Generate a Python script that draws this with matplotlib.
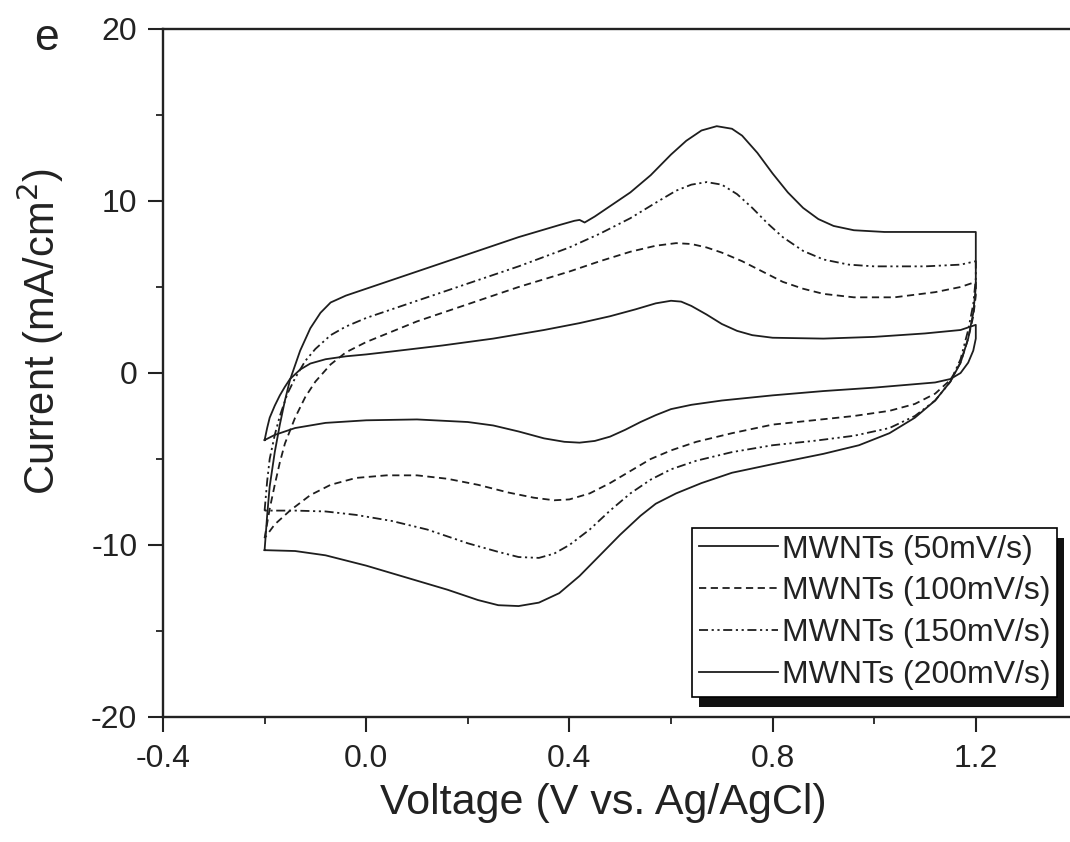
import matplotlib
matplotlib.use("Agg")
import matplotlib.pyplot as plt
from matplotlib.patches import Rectangle

plt.rcParams['font.family'] = ['Liberation Sans', 'DejaVu Sans']

# ---- data ----
labels = ["MWNTs (50mV/s)", "MWNTs (100mV/s)", "MWNTs (150mV/s)", "MWNTs (200mV/s)"]

v50 = [-0.20, -0.195, -0.19, -0.18, -0.17, -0.16, -0.15, -0.13, -0.11, -0.08, -0.04, 0.00, 0.05, 0.15, 0.25, 0.35, 0.42, 0.48, 0.53, 0.57, 0.60, 0.62, 0.64, 0.67, 0.70, 0.73, 0.76, 0.80, 0.90, 1.00, 1.10, 1.17, 1.20,
       1.20, 1.195, 1.185, 1.17, 1.15, 1.12, 1.08, 1.00, 0.90, 0.80, 0.70, 0.64, 0.60, 0.57, 0.54, 0.51, 0.48, 0.45, 0.42, 0.39, 0.35, 0.30, 0.25, 0.20, 0.10, 0.00, -0.08, -0.14, -0.18, -0.20]
i50 = [-3.9, -3.2, -2.6, -1.9, -1.3, -0.8, -0.35, 0.2, 0.55, 0.8, 0.97, 1.08, 1.25, 1.6, 2.0, 2.5, 2.9, 3.3, 3.7, 4.05, 4.2, 4.15, 3.9, 3.4, 2.85, 2.45, 2.2, 2.05, 2.0, 2.1, 2.3, 2.5, 2.8,
       2.0, 1.3, 0.6, 0.0, -0.35, -0.55, -0.65, -0.85, -1.05, -1.3, -1.6, -1.85, -2.1, -2.45, -2.85, -3.3, -3.7, -3.95, -4.05, -4.0, -3.8, -3.4, -3.05, -2.85, -2.7, -2.75, -2.9, -3.2, -3.6, -3.9]

v100 = [-0.20, -0.19, -0.18, -0.17, -0.16, -0.14, -0.12, -0.10, -0.07, -0.04, 0.00, 0.10, 0.20, 0.30, 0.40, 0.46, 0.52, 0.57, 0.61, 0.64, 0.67, 0.70, 0.74, 0.78, 0.82, 0.86, 0.90, 0.96, 1.04, 1.12, 1.17, 1.20,
        1.20, 1.195, 1.185, 1.17, 1.15, 1.12, 1.08, 1.03, 0.96, 0.88, 0.80, 0.72, 0.65, 0.60, 0.56, 0.52, 0.48, 0.44, 0.40, 0.37, 0.33, 0.28, 0.22, 0.16, 0.10, 0.04, -0.02, -0.07, -0.11, -0.15, -0.18, -0.20]
i100 = [-9.6, -7.9, -6.5, -5.2, -4.1, -2.6, -1.4, -0.5, 0.5, 1.2, 1.8, 3.0, 4.0, 5.0, 5.9, 6.5, 7.05, 7.4, 7.55, 7.5, 7.3, 7.0, 6.5, 5.9, 5.3, 4.9, 4.6, 4.4, 4.4, 4.7, 5.0, 5.3,
        4.5, 3.3, 2.0, 0.6, -0.4, -1.2, -1.8, -2.2, -2.5, -2.75, -3.0, -3.5, -4.0, -4.5, -5.0, -5.7, -6.4, -7.0, -7.35, -7.4, -7.25, -6.95, -6.5, -6.15, -5.95, -5.95, -6.1, -6.5, -7.1, -8.0, -8.8, -9.6]

v150 = [-0.20, -0.195, -0.19, -0.18, -0.17, -0.155, -0.14, -0.12, -0.10, -0.07, -0.04, 0.00, 0.10, 0.20, 0.30, 0.40, 0.46, 0.52, 0.57, 0.61, 0.64, 0.67, 0.70, 0.73, 0.76, 0.79, 0.82, 0.86, 0.90, 0.95, 1.00, 1.10, 1.17, 1.20,
        1.20, 1.195, 1.185, 1.17, 1.15, 1.12, 1.08, 1.03, 0.96, 0.88, 0.80, 0.72, 0.65, 0.60, 0.56, 0.52, 0.48, 0.44, 0.40, 0.37, 0.34, 0.30, 0.26, 0.20, 0.12, 0.05, -0.02, -0.08, -0.14, -0.20]
i150 = [-8.0, -6.3, -5.0, -3.6, -2.5, -1.2, -0.3, 0.7, 1.4, 2.2, 2.7, 3.2, 4.2, 5.2, 6.2, 7.3, 8.1, 9.0, 9.9, 10.6, 10.95, 11.1, 10.95, 10.4, 9.6, 8.7, 7.9, 7.1, 6.6, 6.3, 6.2, 6.2, 6.3, 6.5,
        5.5, 4.0, 2.5, 0.8, -0.5, -1.6, -2.5, -3.2, -3.65, -3.95, -4.2, -4.6, -5.1, -5.6, -6.2, -7.0, -8.0, -9.1, -10.0, -10.5, -10.75, -10.7, -10.4, -9.9, -9.1, -8.6, -8.25, -8.05, -8.0, -8.0]

v200 = [-0.20, -0.195, -0.19, -0.18, -0.17, -0.16, -0.15, -0.13, -0.11, -0.09, -0.07, -0.04, 0.00, 0.10, 0.20, 0.30, 0.38, 0.41, 0.42, 0.43, 0.45, 0.48, 0.52, 0.56, 0.60, 0.63, 0.66, 0.69, 0.72, 0.74, 0.77, 0.80, 0.83, 0.86, 0.89, 0.92, 0.96, 1.02, 1.10, 1.20,
        1.20, 1.195, 1.185, 1.17, 1.15, 1.12, 1.08, 1.03, 0.97, 0.90, 0.80, 0.72, 0.66, 0.61, 0.57, 0.54, 0.50, 0.46, 0.42, 0.38, 0.34, 0.30, 0.26, 0.22, 0.16, 0.08, 0.00, -0.08, -0.14, -0.20]
i200 = [-10.3, -8.3, -6.6, -4.6, -3.0, -1.6, -0.4, 1.3, 2.6, 3.5, 4.1, 4.5, 4.9, 5.9, 6.9, 7.9, 8.6, 8.85, 8.9, 8.75, 9.1, 9.7, 10.5, 11.5, 12.7, 13.5, 14.1, 14.35, 14.2, 13.8, 12.8, 11.6, 10.5, 9.6, 8.95, 8.55, 8.3, 8.2, 8.2, 8.2,
        5.0, 3.5, 2.0, 0.6, -0.5, -1.6, -2.6, -3.5, -4.2, -4.7, -5.3, -5.8, -6.4, -7.0, -7.6, -8.3, -9.4, -10.6, -11.8, -12.8, -13.35, -13.55, -13.5, -13.2, -12.6, -11.9, -11.2, -10.6, -10.35, -10.3]

xticks = [-0.4, 0.0, 0.4, 0.8, 1.2]
xticklabels = ["-0.4", "0.0", "0.4", "0.8", "1.2"]
yticks = [-20, -10, 0, 10, 20]
yticklabels = ["-20", "-10", "0", "10", "20"]

# ---- figure ----
fig = plt.figure(figsize=(10.70, 8.42), dpi=100)
ax = fig.add_axes([163/1070, 125/842, 914.4/1070, 688/842])

col = '#1e1e1e'
lw = 1.3
styles = ['-', (0, (4, 2.5)), (0, (5, 2, 1.2, 2, 1.2, 2)), '-']
series = [(v50, i50), (v100, i100), (v150, i150), (v200, i200)]
for (vx, iy), ls, lab in zip(series, styles, labels):
    ax.plot(vx, iy, color=col, lw=lw, ls=ls, label=lab, solid_joinstyle='round')

ax.set_xlim(-0.4, 1.4)
ax.set_ylim(-20, 20)
ax.set_xticks(xticks)
ax.set_xticklabels(xticklabels)
ax.set_yticks(yticks)
ax.set_yticklabels(yticklabels)
ax.set_xticks([-0.2, 0.2, 0.6, 1.0], minor=True)
ax.set_yticks([-15, -5, 5, 15], minor=True)

for s in ['left', 'bottom', 'top']:
    ax.spines[s].set_linewidth(1.7)
    ax.spines[s].set_color('#222222')
ax.spines['right'].set_visible(False)

ax.tick_params(which='major', direction='out', length=10.5, width=1.5, colors='#222222',
               labelsize=23, top=False, right=False)
ax.tick_params(axis='x', which='major', pad=9)
ax.tick_params(axis='y', which='major', pad=8)
ax.tick_params(which='minor', direction='out', length=5, width=1.3, colors='#222222',
               top=False, right=False)

ax.set_xlabel("Voltage (V vs. Ag/AgCl)", fontsize=31, color='#222222')
ax.xaxis.set_label_coords(0.481, -0.096)
ax.set_ylabel("Current (mA/cm$^2$)", fontsize=30, color='#222222')
ax.yaxis.set_label_coords(-0.106, 0.56)

fig.text(47/1070, 1 - 38/842, "e", fontsize=32, color='#222222', ha='center', va='center')

leg = ax.legend(loc='lower right', bbox_to_anchor=(0.978, 0.029), borderaxespad=0,
                fontsize=23, frameon=True, fancybox=False, edgecolor='black',
                handlelength=2.5, handletextpad=0.1, labelspacing=0.37, borderpad=0.22,
                framealpha=1)
leg.get_frame().set_linewidth(1.2)
for t in leg.get_texts():
    t.set_color('#222222')
leg.set_zorder(6)

fig.canvas.draw()
bb = leg.get_window_extent(fig.canvas.get_renderer())
inv = ax.transAxes.inverted()
(x0, y0) = inv.transform((bb.x0 + 7, bb.y0 - 10))
(x1, y1) = inv.transform((bb.x1 + 7, bb.y1 - 10))
shadow = Rectangle((x0, y0), x1 - x0, y1 - y0, transform=ax.transAxes,
                   facecolor='#111111', edgecolor='none', zorder=5.5, clip_on=False)
ax.add_patch(shadow)

fig.savefig("out.png", dpi=100)
